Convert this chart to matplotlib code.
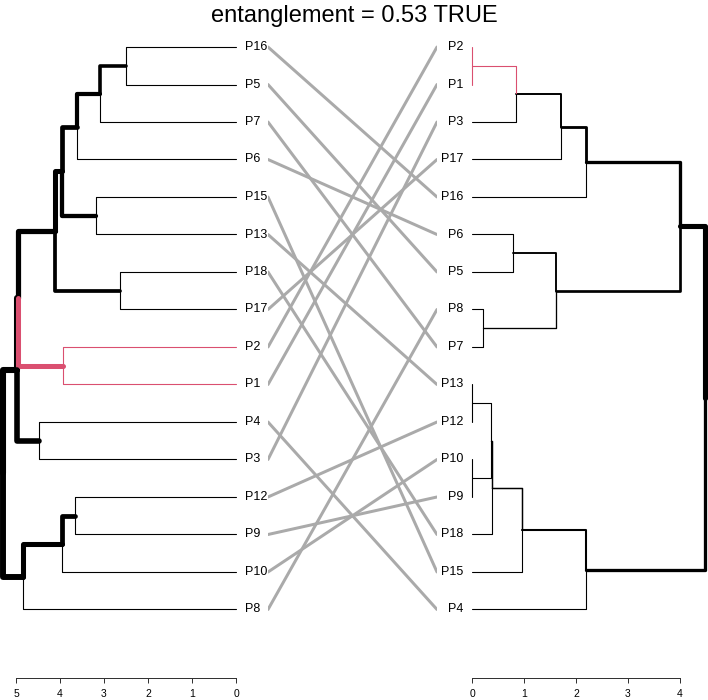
import matplotlib
matplotlib.use('Agg')
import matplotlib.pyplot as plt

plt.rcParams['font.family'] = ['Liberation Sans', 'DejaVu Sans']

W, H = 708, 700

title = "entanglement = 0.53 TRUE"

# leaf order top to bottom
left_labels = ["P16", "P5", "P7", "P6", "P15", "P13", "P18", "P17",
               "P2", "P1", "P4", "P3", "P12", "P9", "P10", "P8"]
right_labels = ["P2", "P1", "P3", "P17", "P16", "P6", "P5", "P8",
                "P7", "P13", "P12", "P10", "P9", "P18", "P15", "P4"]

# merges: (child a, child b, height); ints point to earlier merges
left_merges = [
    ("P16", "P5", 2.50),
    (0, "P7", 3.09),
    (1, "P6", 3.61),
    ("P15", "P13", 3.18),
    (2, 3, 3.95),
    ("P18", "P17", 2.64),
    (4, 5, 4.11),
    ("P2", "P1", 3.93),
    (6, 7, 4.96),
    ("P4", "P3", 4.48),
    (8, 9, 4.98),
    ("P12", "P9", 3.66),
    (11, "P10", 3.95),
    (12, "P8", 4.84),
    (10, 13, 5.30),
]
right_merges = [
    ("P2", "P1", 0.0),
    (0, "P3", 0.84),
    (1, "P17", 1.72),
    (2, "P16", 2.19),
    ("P6", "P5", 0.79),
    ("P8", "P7", 0.22),
    (4, 5, 1.61),
    (3, 6, 4.00),
    ("P13", "P12", 0.0),
    ("P10", "P9", 0.0),
    (8, 9, 0.36),
    (10, "P18", 0.39),
    (11, "P15", 0.97),
    (12, "P4", 2.19),
    (7, 13, 4.48),
]
left_ticks = [0, 1, 2, 3, 4, 5]
right_ticks = [0, 1, 2, 3, 4]
common = {"P1", "P2"}

pink = "#DA4F70"
px = 0.72  # points per pixel at dpi 100


def layout(labels, merges):
    pos = {lab: (0.0, i) for i, lab in enumerate(labels)}
    leaves = {lab: {lab} for lab in labels}
    for k, (a, b, h) in enumerate(merges):
        pos[k] = (h, (pos[a][1] + pos[b][1]) / 2)
        leaves[k] = leaves[a] | leaves[b]
    return pos, leaves


def draw_tree(ax, labels, merges):
    pos, leaves = layout(labels, merges)

    def node(k):
        hp, yp = pos[k]
        for c in merges[k][:2]:
            hc, yc = pos[c]
            col = pink if leaves[c] <= common else "black"
            ax.plot([hp, hp, hc], [yp, yc, yc], color=col, lw=(1.1 + hc) * px,
                    solid_capstyle="round", solid_joinstyle="round")
            if isinstance(c, int):
                node(c)

    node(len(merges) - 1)


def px_axes(x0, x1, y0=30, y1=678):
    return fig.add_axes([x0 / W, 1 - y1 / H, (x1 - x0) / W, (y1 - y0) / H])


def style_axis(ax, ticks):
    for s in ["top", "left", "right"]:
        ax.spines[s].set_visible(False)
    ax.spines["bottom"].set_bounds(min(ticks), max(ticks))
    ax.spines["bottom"].set_linewidth(px)
    ax.spines["bottom"].set_color("#333333")
    ax.set_xticks(ticks)
    ax.set_yticks([])
    ax.tick_params(axis="x", direction="out", length=3.6, width=px,
                   color="#333333", labelsize=7.5, pad=4)
    ax.patch.set_visible(False)


fig = plt.figure(figsize=(W / 100, H / 100), dpi=100)

ylim = ((678 - 47) / 37.5, (30 - 47) / 37.5)

# connecting lines
axm = px_axes(268, 437)
for i, lab in enumerate(left_labels):
    axm.plot([0, 1], [i, right_labels.index(lab)], color="#AAAAAA", lw=3 * px,
             solid_capstyle="round")
axm.set_xlim(0, 1)
axm.set_ylim(*ylim)
axm.axis("off")

# left dendrogram
axl = px_axes(0, 240)
draw_tree(axl, left_labels, left_merges)
axl.set_xlim(236 / 44, -4 / 44)
axl.set_ylim(*ylim)
style_axis(axl, left_ticks)
for i, lab in enumerate(left_labels):
    axl.annotate(lab, xy=(0, i), xytext=(6.5, 0), textcoords="offset points",
                 ha="left", va="center", fontsize=9)

# right dendrogram
axr = px_axes(468, 708)
draw_tree(axr, right_labels, right_merges)
axr.set_xlim(-4 / 52, 236 / 52)
axr.set_ylim(*ylim)
style_axis(axr, right_ticks)
for i, lab in enumerate(right_labels):
    axr.annotate(lab, xy=(0, i), xytext=(-6.5, 0), textcoords="offset points",
                 ha="right", va="center", fontsize=9)

fig.text(0.5, 1 - 16 / H, title, ha="center", va="center", fontsize=17)

fig.savefig("out.png", dpi=100)
